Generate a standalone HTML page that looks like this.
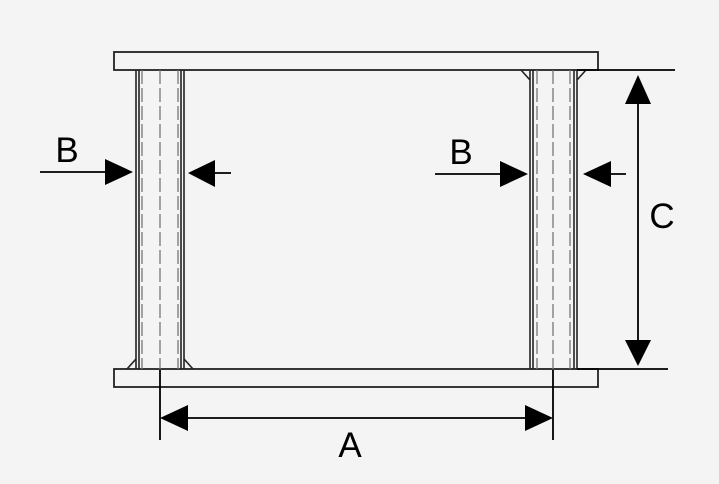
<!DOCTYPE html>
<html><head><style>body{margin:0;background:#f4f4f4}svg{display:block}</style></head><body>
<svg width="719" height="484" viewBox="0 0 719 484" xmlns="http://www.w3.org/2000/svg">
<rect width="719" height="484" fill="#f4f4f4"/>
<g stroke="#222" stroke-width="1.8" fill="#f4f4f4">
<rect x="114" y="52" width="484" height="18"/>
<rect x="114" y="369" width="484" height="18"/>
</g>
<g stroke="#222" stroke-width="1.6" fill="none">
<line x1="136" y1="70" x2="136" y2="369"/><line x1="139" y1="70" x2="139" y2="369"/>
<line x1="181" y1="70" x2="181" y2="369"/><line x1="184" y1="70" x2="184" y2="369"/>
<line x1="530" y1="70" x2="530" y2="369"/><line x1="533" y1="70" x2="533" y2="369"/>
<line x1="574" y1="70" x2="574" y2="369"/><line x1="577" y1="70" x2="577" y2="369"/>
<path d="M127 369 L136 359 M193 369 L184 359 M521 70 L530 80 M586 70 L577 80"/>
</g>
<g stroke="#777" stroke-width="1.3" stroke-dasharray="14 4" fill="none">
<line x1="142" y1="70" x2="142" y2="369"/><line x1="178" y1="70" x2="178" y2="369"/>
<line x1="160" y1="70" x2="160" y2="369"/>
<line x1="537" y1="70" x2="537" y2="369"/><line x1="570" y1="70" x2="570" y2="369"/>
<line x1="553" y1="70" x2="553" y2="369"/>
</g>
<g stroke="#000" stroke-width="1.8">
<line x1="160" y1="370" x2="160" y2="440"/><line x1="553" y1="370" x2="553" y2="440"/>
<line x1="180" y1="418" x2="533" y2="418"/>
<line x1="577" y1="70" x2="675" y2="70"/><line x1="577" y1="369" x2="668" y2="369"/>
<line x1="638" y1="95" x2="638" y2="345"/>
<line x1="40" y1="172" x2="110" y2="172"/><line x1="210" y1="173" x2="231" y2="173"/>
<line x1="435" y1="174" x2="505" y2="174"/><line x1="605" y1="174" x2="626" y2="174"/>
</g>
<g fill="#000">
<polygon points="160,418 188,405 188,431"/><polygon points="553,418 525,405 525,431"/>
<polygon points="638,75 625,104 651,104"/><polygon points="638,366 625,340 651,340"/>
<polygon points="133,172 105,159 105,185"/><polygon points="188,173 215,160 215,187"/>
<polygon points="528,174 500,161 500,187"/><polygon points="583,174 611,161 611,187"/>
</g>
<g font-family="Liberation Sans, sans-serif" font-size="35" fill="#000" text-anchor="middle">
<text x="67" y="162">B</text><text x="461" y="164">B</text>
<text x="662" y="228">C</text><text x="350" y="457">A</text>
</g>
</svg>
</body></html>
